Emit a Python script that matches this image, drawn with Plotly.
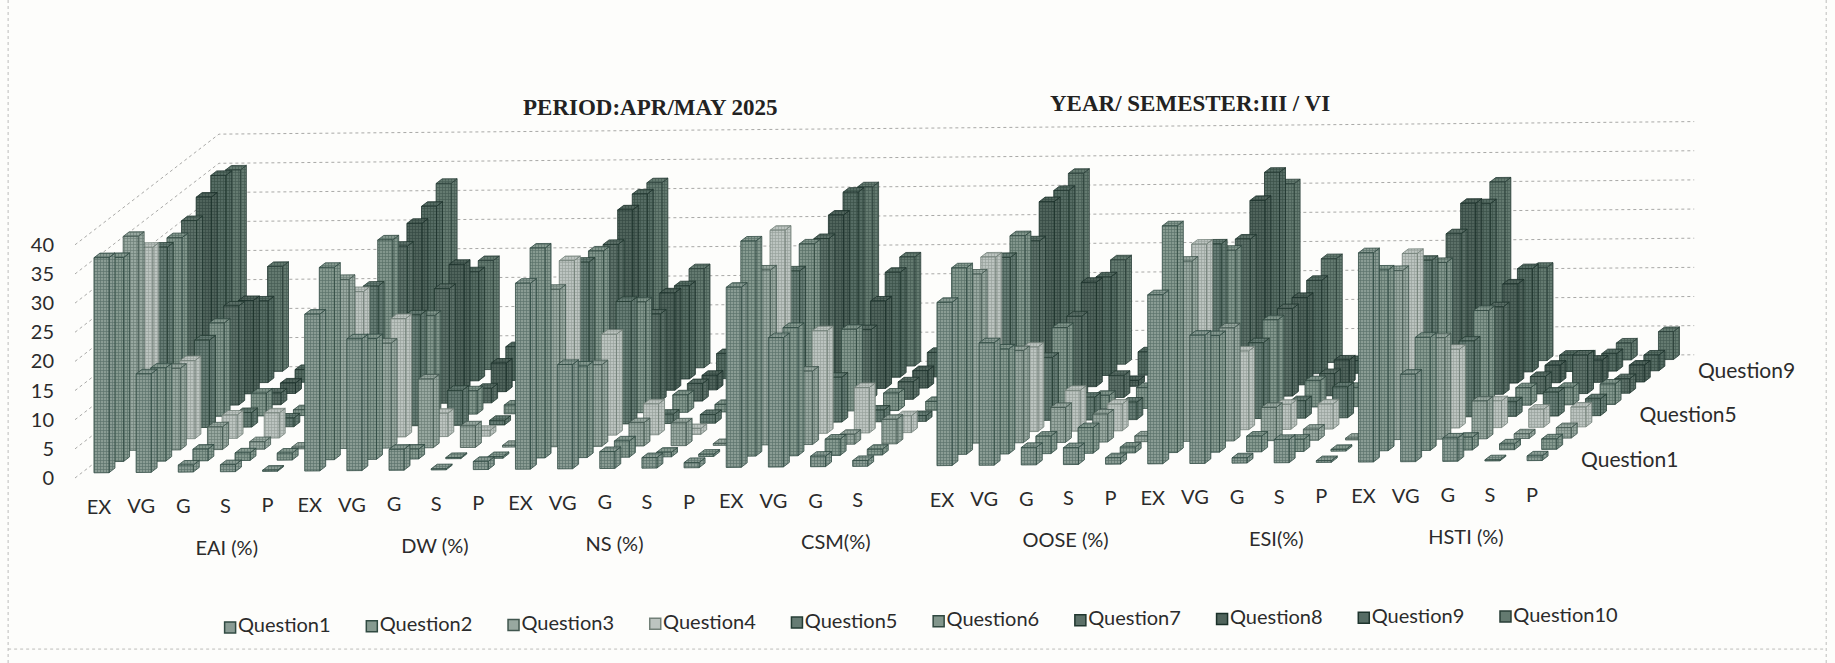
import plotly.graph_objects as go

ratings = ["EX", "VG", "G", "S", "P"]
subjects = ["EAI (%)", "DW (%)", "NS (%)", "CSM(%)", "OOSE (%)", "ESI(%)", "HSTI (%)"]
questions = ["Question" + str(i) for i in range(1, 11)]
y_ticks = [0, 5, 10, 15, 20, 25, 30, 35, 40]

# one row per rating, one value per question (Question1 .. Question10)
eai = [
    [36.9, 35, 36.7, 32.9, 31, 30.7, 31.7, 33.8, 35.6, 34.6],
    [16.9, 16, 14, 13.4, 15, 16, 17, 16, 14, 18],
    [1.2, 2, 3.9, 4, 2.5, 3.9, 2, 1.8, 2.2, 1.5],
    [1.2, 1.3, 1.3, 4.3, 1.5, 1, 1.5, 1, 1, 0.8],
    [0.2, 1.2, 0.3, 0.5, 0.8, 0.5, 0.5, 0.8, 0.5, 0.5],
]
dw = [
    [26.9, 33, 29, 25, 24, 30, 27, 29, 30, 32],
    [22.6, 20.7, 18, 20.3, 19, 17, 19.7, 21.9, 18.7, 18.7],
    [3.6, 1.7, 11.8, 4, 6, 4, 2.5, 4.9, 5.8, 3],
    [0.2, 0.2, 3.7, 1, 0.8, 1.5, 1, 1, 1, 0.8],
    [1.4, 0.3, 0.3, 0.5, 0.5, 0.5, 0.5, 0.5, 0.5, 0.5],
]
ns = [
    [31.9, 36, 27, 30, 27.8, 27.8, 27, 31, 31.8, 31.8],
    [17.9, 15.7, 14, 17.3, 21, 19, 15, 16.7, 16, 17],
    [2.9, 2.8, 4, 5.3, 1.6, 3, 3, 2.5, 4.3, 2.9],
    [1.8, 0.8, 3.9, 1, 1.5, 1.3, 1, 1, 1, 0.8],
    [0.9, 0.4, 0.3, 0.3, 0.5, 0.5, 0.5, 0.5, 0.5, 0.5],
]
csm = [
    [30.9, 36.9, 30, 34.9, 26, 28.7, 27.7, 29.8, 31.8, 30.8],
    [22.2, 22, 12.6, 17.6, 7.7, 14, 12, 15, 18, 18.7],
    [1.8, 2.8, 1.7, 7.8, 2, 3, 3, 3, 4.2, 2],
    [1, 1, 4.2, 2.9, 1, 1.5, 1, 1, 1, 1],
    [0, 0, 0, 0, 0, 0, 0, 0, 0, 0],
]
oose = [
    [28, 32, 29, 30, 28, 29.8, 27, 31.8, 31.8, 32.8],
    [21, 18, 15.8, 14.5, 10.8, 14, 14, 17.9, 16.9, 17.9],
    [3, 3, 6, 7, 3.9, 2.3, 3.8, 1, 4, 2],
    [2.9, 4.4, 4.8, 4.6, 3, 3.6, 2, 1.5, 1, 1],
    [1.1, 1, 1, 1, 1, 1, 0.8, 0.8, 0.8, 0.8],
]
esi = [
    [29, 38.9, 30.9, 31.9, 30, 27, 27, 31.7, 34.6, 30.7],
    [22, 20, 19.4, 13.5, 13, 15, 15, 15, 16, 17.8],
    [0.9, 2.7, 5.7, 4.3, 3, 4.5, 3.8, 4.2, 2.2, 1],
    [4, 2.1, 1.9, 4.3, 5.3, 3.3, 1, 1, 1, 0.8],
    [0.3, 0.3, 0.3, 0.5, 0.5, 0.5, 0.5, 0.5, 0.5, 0.5],
]
hsti = [
    [35.9, 31, 29, 30, 26.9, 24.6, 27.6, 30.9, 28.9, 30.7],
    [15, 19.4, 17.4, 13.5, 13, 16.3, 15, 17, 17.7, 16],
    [4, 2.2, 6.5, 4.6, 2.5, 3, 3, 3, 2.8, 0.9],
    [0.2, 1, 0.8, 3.1, 4.1, 3, 6.6, 3.8, 3, 2.9],
    [0.8, 1.8, 1.8, 3.4, 2.9, 3.5, 2.5, 2.9, 2.7, 4.8],
]
subject_values = [eai, dw, ns, csm, oose, esi, hsti]

front_colors = ["#8a9c94", "#869a90", "#98a8a0", "#bcc4c0", "#667c74", "#82968c",
                "#5c7068", "#50645c", "#566c64", "#647a70"]
dark_colors = ["#304a42", "#304a42", "#40564e", "#728078", "#243c34", "#304840",
               "#20362e", "#1a3029", "#1e342d", "#283e37"]

# oblique view: sizes of the parallel projection, in axis units
PX_PER_SLOT = 42.15
PX_PER_UNIT = 5.83
ROW_DX = 14.6 / PX_PER_SLOT
ROW_DY = 11.1 / PX_PER_UNIT
TILT = 0.0085 * PX_PER_SLOT / PX_PER_UNIT
WALL_DEPTH = 9.86
BAR_LEFT = 0.294
BAR_W = 0.356
BAR_D = 0.41
FONT = "Lato, 'Open Sans', sans-serif"


def project(slot, depth, value):
    x = slot + depth * ROW_DX
    return x, value + depth * ROW_DY + x * TILT


def polygon(points):
    xs = [p[0] for p in points] + [points[0][0], None]
    ys = [p[1] for p in points] + [points[0][1], None]
    return xs, ys


fig = go.Figure()

# walls
for v in y_ticks:
    a = project(0, 0, v)
    b = project(0, WALL_DEPTH, v)
    c = project(35, WALL_DEPTH, v)
    fig.add_trace(go.Scatter(
        x=[a[0], b[0], c[0]], y=[a[1], b[1], c[1]], mode="lines",
        line=dict(color="#a9a9a7", width=1, dash="dot"),
        showlegend=False, hoverinfo="skip"
    ))

# back row first so the front rows cover it
for q in range(9, -1, -1):
    front_x, front_y, side_x, side_y, top_x, top_y = [], [], [], [], [], []
    for s, rows in enumerate(subject_values):
        for r, row in enumerate(rows):
            v = row[q]
            if v <= 0:
                continue
            slot = s * 5 + r + BAR_LEFT
            d0 = q + 0.45
            d1 = d0 + BAR_D
            fx, fy = polygon([project(slot, d0, 0), project(slot + BAR_W, d0, 0),
                              project(slot + BAR_W, d0, v), project(slot, d0, v)])
            sx, sy = polygon([project(slot + BAR_W, d0, 0), project(slot + BAR_W, d1, 0),
                              project(slot + BAR_W, d1, v), project(slot + BAR_W, d0, v)])
            tx, ty = polygon([project(slot, d0, v), project(slot + BAR_W, d0, v),
                              project(slot + BAR_W, d1, v), project(slot, d1, v)])
            front_x += fx
            front_y += fy
            side_x += sx
            side_y += sy
            top_x += tx
            top_y += ty
    for xs, ys in [(side_x, side_y), (top_x, top_y), (front_x, front_y)]:
        fig.add_trace(go.Scatter(
            x=xs, y=ys, mode="lines", fill="toself",
            fillcolor=front_colors[q],
            fillpattern=dict(shape="+", fgcolor=dark_colors[q], bgcolor=front_colors[q],
                             size=3, solidity=0.4),
            line=dict(color=dark_colors[q], width=0.8),
            name=questions[q], showlegend=False, hoverinfo="name"
        ))

# rating labels
label_x, label_y, label_text = [], [], []
for s in range(len(subjects)):
    for r, rating in enumerate(ratings):
        if subjects[s] == "CSM(%)" and rating == "P":
            continue
        lx, ly = project(s * 5 + r + 0.57, 0, -5.3)
        label_x.append(lx)
        label_y.append(ly)
        label_text.append(rating)
fig.add_trace(go.Scatter(
    x=label_x, y=label_y, text=label_text, mode="text",
    textfont=dict(family=FONT, size=20, color="#2b2b2b"),
    showlegend=False, hoverinfo="skip"
))

# subject labels
subject_slots = [3.6, 8.54, 12.8, 18.05, 23.5, 28.5, 33.0]
sub_pts = [project(sl, 0, -12.5) for sl in subject_slots]
fig.add_trace(go.Scatter(
    x=[p[0] for p in sub_pts], y=[p[1] for p in sub_pts], text=subjects, mode="text",
    textfont=dict(family=FONT, size=20, color="#2b2b2b"),
    showlegend=False, hoverinfo="skip"
))

# depth axis labels
depth_labels = ["Question1", "Question5", "Question9"]
depth_pts = [project(36.73, d + 0.45, -0.4) for d in [0, 4, 8]]
fig.add_trace(go.Scatter(
    x=[p[0] for p in depth_pts], y=[p[1] for p in depth_pts], text=depth_labels, mode="text",
    textfont=dict(family=FONT, size=21, color="#2b2b2b"),
    showlegend=False, hoverinfo="skip"
))

# key row, it follows the tilt of the scan so it is drawn in the plot itself
for q, name in enumerate(questions):
    kx, ky = project(3.68 + q * 3.362, 0, -25.85)
    fig.add_trace(go.Scatter(
        x=[kx], y=[ky], text=[name], mode="markers+text", textposition="middle right",
        marker=dict(symbol="square", size=11, color=front_colors[q],
                    line=dict(color=dark_colors[q], width=1.5)),
        textfont=dict(family=FONT, size=20, color="#2b2b2b"),
        name=name, showlegend=False, hoverinfo="name"
    ))

fig.add_annotation(x=13.64, y=63.5, text="<b>PERIOD:APR/MAY 2025</b>", showarrow=False,
                   font=dict(family="Liberation Serif", size=23, color="#222222"))
fig.add_annotation(x=26.45, y=64.3, text="<b>YEAR/ SEMESTER:III / VI</b>", showarrow=False,
                   font=dict(family="Liberation Serif", size=23, color="#222222"))

for x0, y0, x1, y1 in [(-0.038, 0, -0.038, 1), (-0.038, 0.021, 0.995, 0.021), (0.995, 0, 0.995, 1)]:
    fig.add_shape(type="line", xref="paper", yref="paper", x0=x0, y0=y0, x1=x1, y1=y1,
                  line=dict(color="#bdbdbb", width=1, dash="dot"))

fig.update_xaxes(visible=False, range=[0, 1760 / PX_PER_SLOT])
fig.update_yaxes(
    range=[-(663 - 478) / PX_PER_UNIT, 478 / PX_PER_UNIT],
    tickvals=y_ticks, showgrid=False, zeroline=False, showline=False,
    ticks="", ticklabelstandoff=20,
    tickfont=dict(family=FONT, size=20, color="#2b2b2b")
)
fig.update_layout(
    width=1835, height=663,
    margin=dict(l=75, r=0, t=0, b=0),
    plot_bgcolor="#fdfdfb", paper_bgcolor="#fdfdfb",
    showlegend=False
)

fig.write_html("out.html", config=dict(displayModeBar=False),
               post_script="document.body.style.margin='0';")
